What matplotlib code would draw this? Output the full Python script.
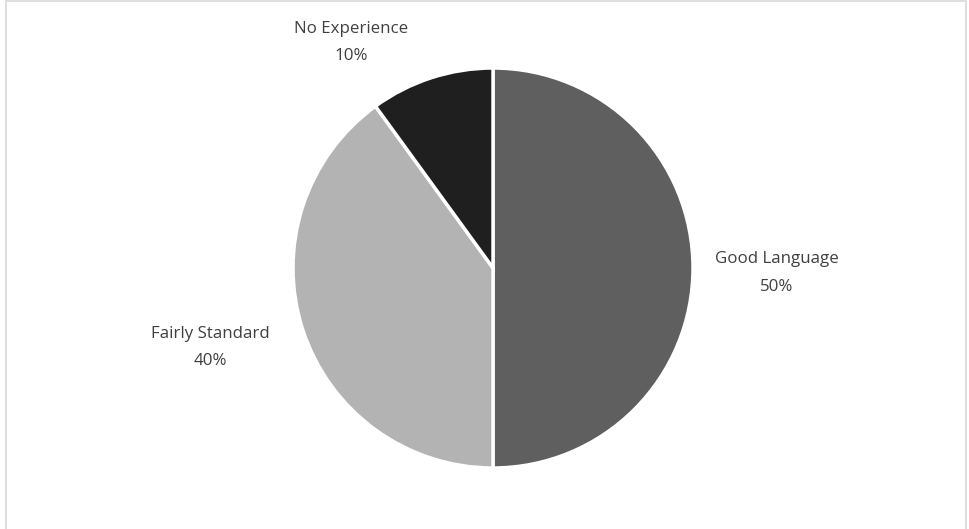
import matplotlib.pyplot as plt
from matplotlib.patches import Rectangle

# experience breakdown (percent)
labels = ["Good Language", "Fairly Standard", "No Experience"]
values = [50, 40, 10]
colors = ["#5f5f5f", "#b3b3b3", "#1f1f1f"]

# where each label block sits, in pie-radius units
label_pos = [(1.42, -0.025), (-1.415, -0.397), (-0.71, 1.127)]

W, H = 969, 529
cx, cy, r = 493, 261, 200   # pie centre / radius in pixels (from bottom-left)

fig = plt.figure(figsize=(W / 100, H / 100), dpi=100)
ax = fig.add_axes([0, 0, 1, 1])
ax.axis("off")

wedges, texts = ax.pie(
    values,
    colors=colors,
    startangle=90,
    counterclock=False,
    radius=1,
    labels=[f"{l}\n{v}%" for l, v in zip(labels, values)],
    wedgeprops=dict(linewidth=2.5, edgecolor="white"),
    textprops=dict(fontsize=12.2, color="#404040", family="Open Sans",
                   linespacing=1.95),
)
for t, (x, y) in zip(texts, label_pos):
    t.set_position((x, y))
    t.set_ha("center")
    t.set_va("center")
ax.set_xlim(-cx / r, (W - cx) / r)
ax.set_ylim(-cy / r, (H - cy) / r)
ax.set_aspect("auto")

# thin chart-area frame
fig.patches.append(Rectangle((6 / W, -0.01), (W - 9) / W, (H - 6 + 10) / H,
                             transform=fig.transFigure, fill=False,
                             edgecolor="#d9d9d9", linewidth=1.2))

fig.savefig("out.png", dpi=100, facecolor="white")
